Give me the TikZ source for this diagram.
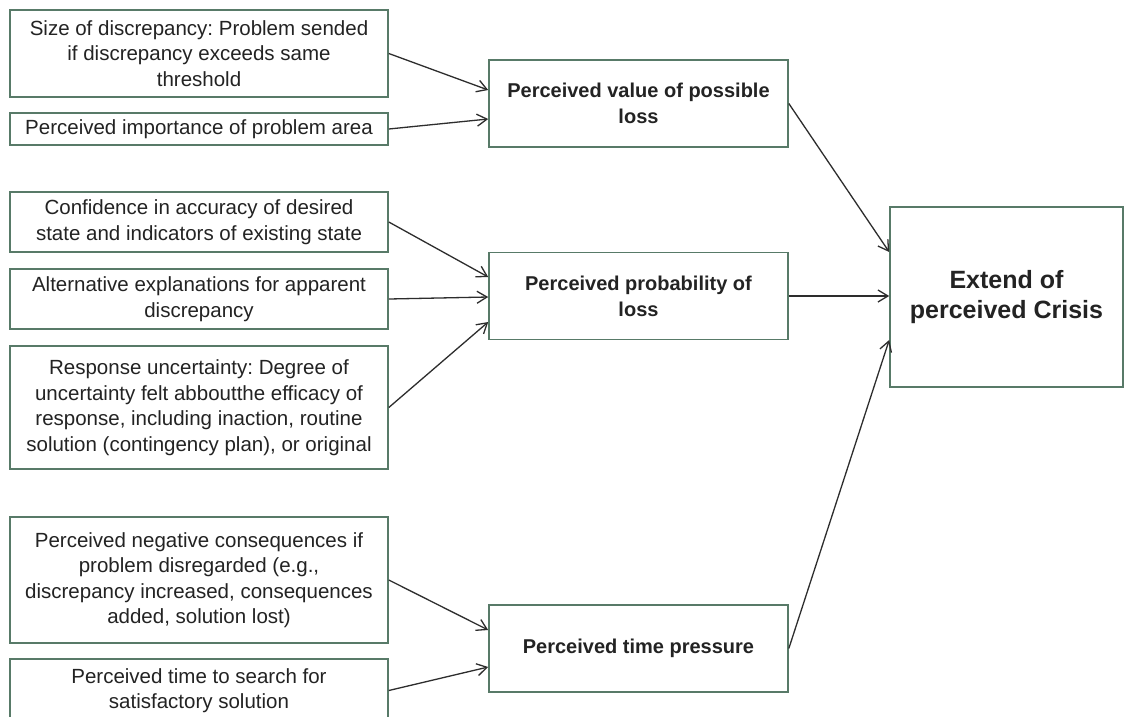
\documentclass[tikz,border=0pt]{standalone}
\usepackage{fontspec}
\setmainfont{Liberation Sans}
\usetikzlibrary{arrows.meta,calc}
\frenchspacing
\definecolor{boxline}{RGB}{88,122,104}
\definecolor{txt}{RGB}{35,35,35}
\definecolor{arr}{RGB}{45,45,45}
\tikzset{
  inbox/.style={draw=boxline,line width=1.6pt,rectangle,inner sep=0pt,align=center,
    minimum width=378pt,text=txt,font=\fontsize{20.5}{25.5}\selectfont},
  midbox/.style={draw=boxline,line width=1.6pt,rectangle,inner sep=0pt,align=center,
    minimum width=299pt,minimum height=87pt,text=txt,font=\fontsize{20}{26}\selectfont\bfseries},
  bigbox/.style={draw=boxline,line width=1.6pt,rectangle,inner sep=0pt,align=center,
    minimum width=233pt,minimum height=180pt,text=txt,font=\fontsize{25}{30}\selectfont\bfseries},
  conn/.style={draw=arr,line width=1.3pt,-{Straight Barb[length=10pt,width=12pt]}}
}
\begin{document}
\begin{tikzpicture}[x=1pt,y=-1pt]
\clip (0,0) rectangle (1125,716);
\fill[white] (0,0) rectangle (1125,716);
% left boxes
\node[inbox,minimum height=87pt] (b1) at (199,53.5) {Size of discrepancy: Problem sended\\if discrepancy exceeds same\\threshold};
\node[inbox,minimum height=32pt] (b2) at (199,129) {Perceived importance of problem area};
\node[inbox,minimum height=60pt] (b3) at (199,222) {Confidence in accuracy of desired\\state and indicators of existing state};
\node[inbox,minimum height=60pt] (b4) at (199,299) {Alternative explanations for apparent\\discrepancy};
\node[inbox,minimum height=123pt] (b5) at (199,407.5) {Response uncertainty: Degree of\\uncertainty felt abboutthe efficacy of\\response, including inaction, routine\\solution (contingency plan), or original};
\node[inbox,minimum height=126pt] (b6) at (199,580) {Perceived negative consequences if\\problem disregarded (e.g.,\\discrepancy increased, consequences\\added, solution lost)};
\node[inbox,minimum height=63pt] (b7) at (199,690.5) {Perceived time to search for\\satisfactory solution};
% middle boxes
\node[midbox] (m1) at (638.5,103.5) {Perceived value of possible\\loss};
\node[midbox] (m2) at (638.5,296) {Perceived probability of\\loss};
\node[midbox] (m3) at (638.5,648.5) {Perceived time pressure};
% right box
\node[bigbox] (r) at (1006.5,297) {Extend of\\perceived Crisis};
% connectors
\draw[conn] (b1.east) -- ($(m1.west)+(0,-13.5)$);
\draw[conn] (b2.east) -- ($(m1.west)+(0,15.5)$);
\draw[conn] (b3.east) -- ($(m2.west)+(0,-19)$);
\draw[conn] (b4.east) -- ($(m2.west)+(0,1)$);
\draw[conn] (b5.east) -- ($(m2.west)+(0,26)$);
\draw[conn] (b6.east) -- ($(m3.west)+(0,-18.5)$);
\draw[conn] (b7.east) -- ($(m3.west)+(0,18.5)$);
\draw[conn] (m1.east) -- ($(r.west)+(0,-45)$);
\draw[conn] (m2.east) -- ($(r.west)+(0,-1)$);
\draw[conn] (m3.east) -- ($(r.west)+(0,43)$);
\end{tikzpicture}
\end{document}
